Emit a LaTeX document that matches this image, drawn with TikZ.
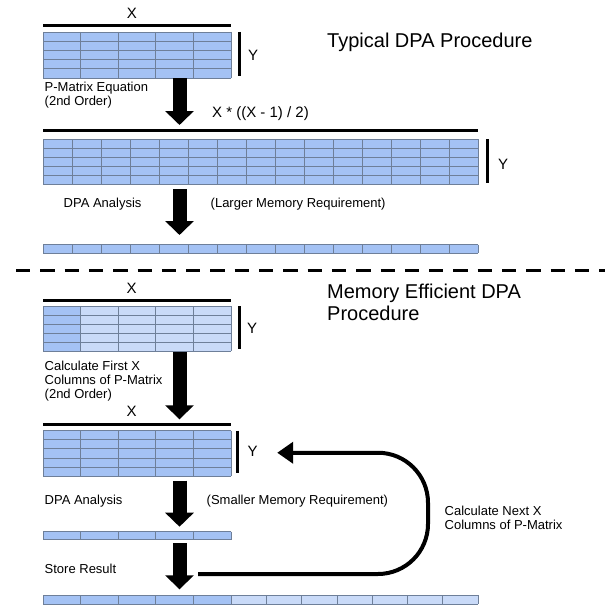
\documentclass[tikz,border=0pt]{standalone}
\usepackage{fontspec}
\setmainfont{Liberation Sans}
\usepackage{xcolor}
\usepackage{tikz}
\usetikzlibrary{calc, arrows.meta, positioning}

\definecolor{cellblue}{HTML}{A4C2F4}
\definecolor{celllight}{HTML}{C9DAF8}
\definecolor{cellline}{HTML}{6E7F99}

\begin{document}
\begin{tikzpicture}[x=1pt, y=-1pt,
    mat/.style={fill=cellblue, inner sep=0pt, outer sep=0pt, anchor=north west},
    matlight/.style={mat, fill=celllight},
    cellrule/.style={draw=cellline, line width=0.7pt},
    dimbar/.style={line width=3pt},
    dimlabel/.style={font=\fontsize{15}{15}\selectfont, inner sep=0pt},
    txt/.style={font=\fontsize{13}{14}\selectfont, inner sep=0pt, anchor=west, align=left},
    title/.style={font=\fontsize{20}{21.6}\selectfont, inner sep=0pt, anchor=west, align=left},
    bigarrow/.style={line width=14pt, -{Triangle[length=14pt, width=28pt]}},
    looparrow/.style={line width=4pt, rounded corners=50pt, -{Triangle[length=16pt, width=21pt]}}]
    \useasboundingbox (0,0) rectangle (610,610);

    % 1. Typical DPA procedure
    \node[title] (title1) at (327,42) {Typical DPA Procedure};
    \node[mat, minimum width=188pt, minimum height=46pt] (pm) at (43,32) {};
    \node[mat, minimum width=435pt, minimum height=45.5pt] (pmall) at (43,139) {};
    \node[mat, minimum width=435pt, minimum height=8.7pt] (res) at (43,244.5) {};

    % 2. Memory efficient DPA procedure
    \node[title] (title2) at (327,302.5) {Memory Efficient DPA\\Procedure};
    \node[matlight, minimum width=188pt, minimum height=45pt] (pmx) at (43,306) {};
    \fill[cellblue] (pmx.north west) rectangle ($(pmx.south west)!0.2!(pmx.south east)$);
    \node[mat, minimum width=188pt, minimum height=45.3pt] (pmx2) at (43,430.7) {};
    \node[mat, minimum width=188pt, minimum height=8pt] (resx) at (43,531.5) {};
    \node[mat, minimum width=188pt, minimum height=9pt] (resA) at (43,595) {};
    \node[matlight, minimum width=247pt, minimum height=9pt, right=0pt of resA] (resB) {};

    % 3. Cell lines
    \foreach \g/\c/\r in {pm/5/5, pmall/15/5, res/15/1, pmx/5/5, pmx2/5/5, resx/5/1, resA/5/1, resB/7/1} {
        \foreach \i in {0,...,\c}
            \draw[cellrule] ($(\g.north west)!\i/\c!(\g.north east)$) -- ($(\g.south west)!\i/\c!(\g.south east)$);
        \foreach \j in {0,...,\r}
            \draw[cellrule] ($(\g.north west)!\j/\r!(\g.south west)$) -- ($(\g.north east)!\j/\r!(\g.south east)$);
    }

    % 4. X and Y bars
    \draw[dimbar] ([yshift=6pt]pm.north west) -- ([yshift=6pt]pm.north east);
    \node[dimlabel] (xpm) at ([xshift=-5pt, yshift=19pt]pm.north) {X};
    \draw[dimbar] ([xshift=8pt]pm.north east) -- ([xshift=8pt, yshift=2pt]pm.south east);
    \node[dimlabel, anchor=west] (ypm) at ([xshift=17pt]pm.east) {Y};

    \draw[dimbar] ([yshift=8.5pt]pmall.north west) -- ([yshift=8.5pt]pmall.north east);
    \node[dimlabel] (xpmall) at ([yshift=25.7pt]pmall.north) {X * ((X - 1) / 2)};
    \draw[dimbar] ([xshift=9.5pt]pmall.north east) -- ([xshift=9.5pt, yshift=2pt]pmall.south east);
    \node[dimlabel, anchor=west] (ypmall) at ([xshift=20pt, yshift=-3pt]pmall.east) {Y};

    \draw[dimbar] ([yshift=6pt]pmx.north west) -- ([yshift=6pt]pmx.north east);
    \node[dimlabel] (xpmx) at ([xshift=-5.3pt, yshift=17.7pt]pmx.north) {X};
    \draw[dimbar] ([xshift=8pt]pmx.north east) -- ([xshift=8pt, yshift=2pt]pmx.south east);
    \node[dimlabel, anchor=west] (ypmx) at ([xshift=16pt]pmx.east) {Y};

    \draw[dimbar] ([yshift=6.4pt]pmx2.north west) -- ([yshift=6.4pt]pmx2.north east);
    \node[dimlabel] (xpmx2) at ([xshift=-5.3pt, yshift=19pt]pmx2.north) {X};
    \draw[dimbar] ([xshift=6.7pt]pmx2.north east) -- ([xshift=6.7pt, yshift=3pt]pmx2.south east);
    \node[dimlabel, anchor=west] (ypmx2) at ([xshift=16.3pt, yshift=2pt]pmx2.east) {Y};

    % 5. Texts
    \node[txt] (eqtxt) at (44.5,95) {P-Matrix Equation\\(2nd Order)};
    \node[txt] (dpatop) at (63.5,204) {DPA Analysis};
    \node[txt] (largetxt) at (210.5,204) {(Larger Memory Requirement)};
    \node[txt] (firsttxt) at (44.5,381.5) {Calculate First X\\Columns of P-Matrix\\(2nd Order)};
    \node[txt] (dpalow) at (44.5,501) {DPA Analysis};
    \node[txt] (smalltxt) at (206.5,501) {(Smaller Memory Requirement)};
    \node[txt] (storetxt) at (44.5,569) {Store Result};
    \node[txt] (nexttxt) at (444.5,518) {Calculate Next X\\Columns of P-Matrix};

    % 6. Arrows
    \coordinate (ax) at (179.5,0);
    \draw[bigarrow] (pm.south -| ax) -- ($(pmall.north -| ax)+(0,-14)$);
    \draw[bigarrow] ($(pmall.south -| ax)+(0,4.5)$) -- ($(res.north -| ax)+(0,-9.5)$);
    \draw[bigarrow] ($(pmx.south -| ax)+(0,1)$) -- ($(pmx2.north -| ax)+(0,-11.4)$);
    \draw[bigarrow] ($(pmx2.south -| ax)+(0,4.7)$) -- ($(resx.north -| ax)+(0,-4.8)$);
    \draw[bigarrow] ($(resx.south -| ax)+(0,3.8)$) -- ($(resA.north -| ax)+(0,-5.7)$);

    \coordinate (loopstart) at (198,574);
    \coordinate (loopturn) at (428,574);
    \draw[looparrow] (loopstart) -- (loopturn) |- ($(ypmx2.east)+(19.5,1.4)$);

    % 7. Dashed separator
    \draw[line width=3.3pt, dash pattern=on 14.3pt off 10pt] (16,270.7) -- (605,270.7);
\end{tikzpicture}
\end{document}
